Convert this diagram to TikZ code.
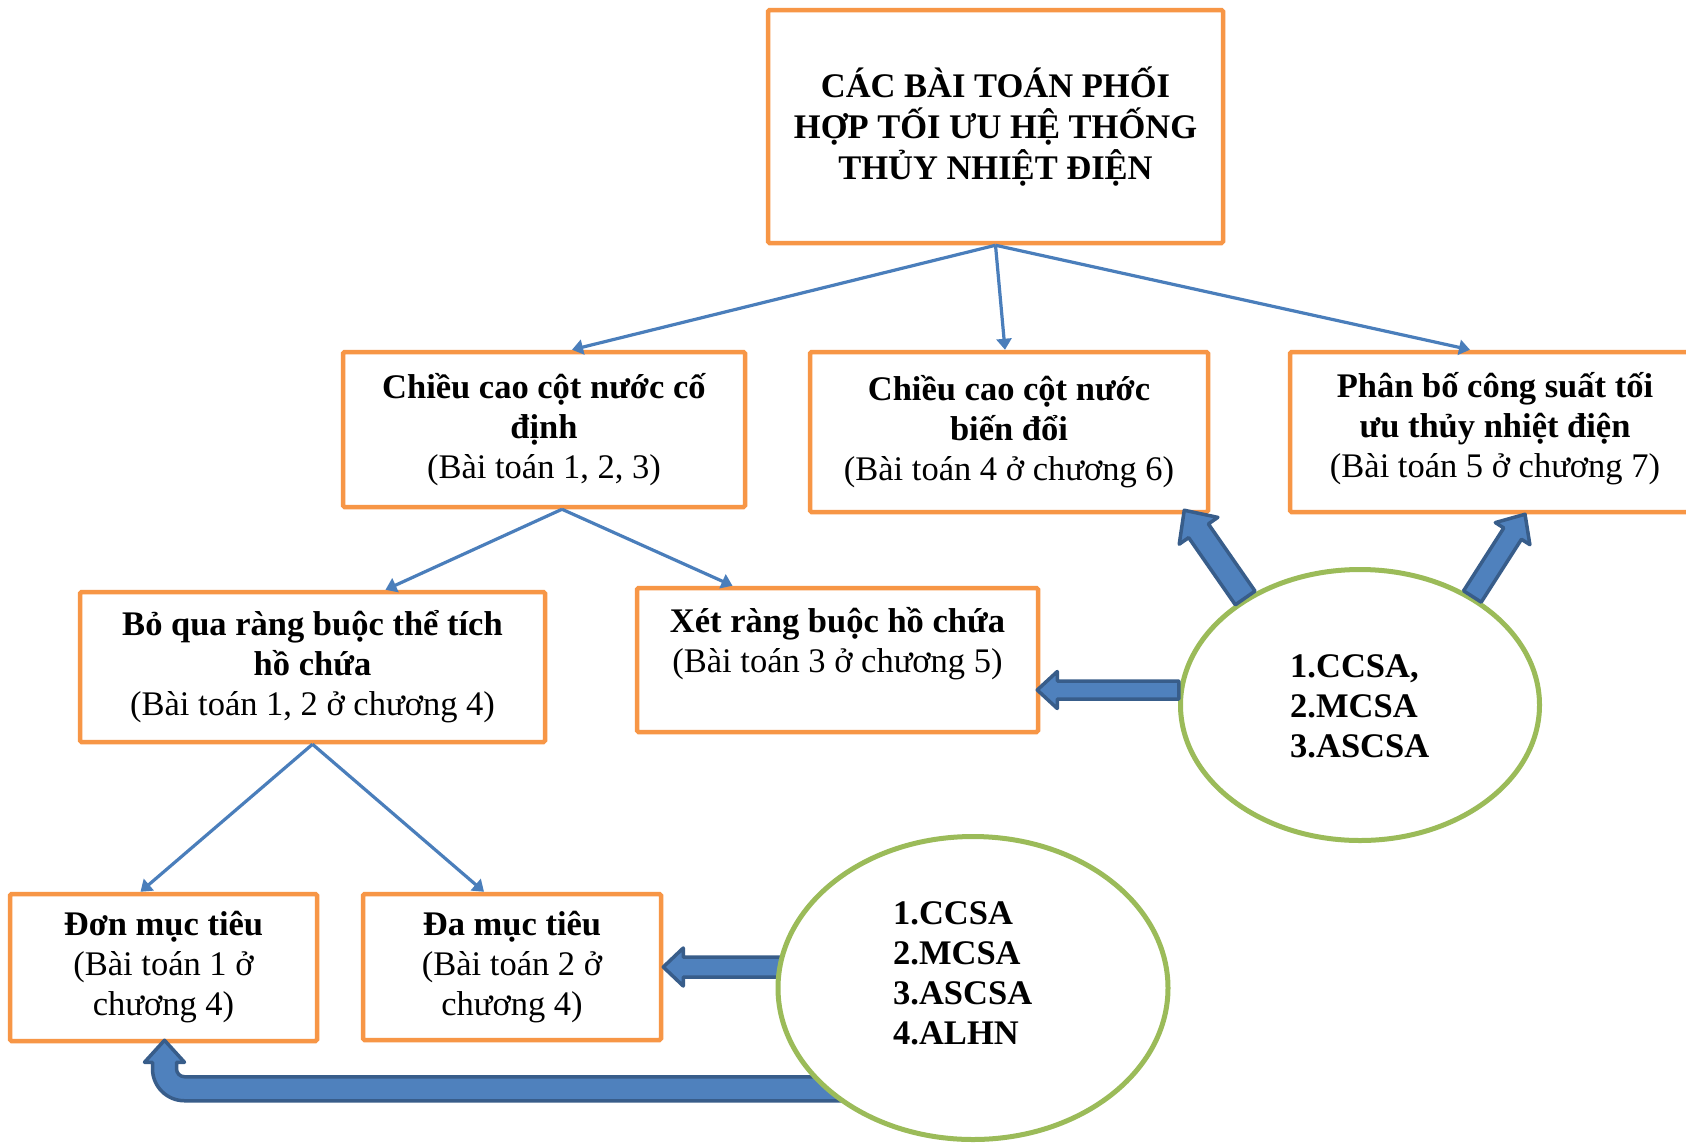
\documentclass[tikz,border=0pt]{standalone}
\usepackage{fontspec}
\setmainfont{Liberation Serif}
\usetikzlibrary{calc,arrows.meta,shapes.geometric}

\definecolor{boxorange}{HTML}{F79646}
\definecolor{linkblue}{HTML}{4A7EBB}
\definecolor{arrowfill}{HTML}{4F81BD}
\definecolor{arrowedge}{HTML}{385D8A}
\definecolor{ovalgreen}{HTML}{9BBB59}

\tikzset{
  box/.style={draw=boxorange, line width=4.5pt, fill=white, inner sep=0pt,
    rounded corners=1.5pt, align=center, font=\fontsize{34.5}{40}\selectfont},
  oval/.style={ellipse, draw=ovalgreen, line width=5pt, fill=white, inner sep=0pt},
  ovaltext/.style={align=left, inner sep=0pt, anchor=west,
    font=\fontsize{34.5}{40}\selectfont\bfseries},
  link/.style={draw=linkblue, line width=3.2pt, -{Triangle[length=11pt,width=15pt]}},
  bigarrow/.style={draw=arrowedge, fill=arrowfill, line width=3.5pt, line join=round}
}

% straight block arrow: tail, tip, shaft half-width, head half-width, head length
\newcommand\blockarrow[5]{%
  \coordinate (ba-b) at ($(#2)!#5!(#1)$);
  \draw[bigarrow] ($(#1)!#3!90:(#2)$) -- ($(ba-b)!#3!-90:(#1)$)
    -- ($(ba-b)!#4!-90:(#1)$) -- (#2) -- ($(ba-b)!#4!90:(#1)$)
    -- ($(ba-b)!#3!90:(#1)$) -- ($(#1)!#3!-90:(#2)$) -- cycle;}

\begin{document}
\begin{tikzpicture}[x=1pt,y=-1pt]
\useasboundingbox (0,0) rectangle (1686,1144);
\clip (0,0) rectangle (1686,1144);
\fill[white] (0,0) rectangle (1686,1144);

% problem boxes
\node[box, minimum width=455pt, minimum height=233pt, font=\fontsize{34.5}{41}\selectfont\bfseries]
  (top) at (995.5,126.5) {CÁC BÀI TOÁN PHỐI\\HỢP TỐI ƯU HỆ THỐNG\\THỦY NHIỆT ĐIỆN};
\node[box, minimum width=402pt, minimum height=155pt] (cd) at (544,429.5)
  {\textbf{Chiều cao cột nước cố}\\\textbf{định}\\(Bài toán 1, 2, 3)};
\node[box, minimum width=398pt, minimum height=160pt] (bd) at (1009,432)
  {\textbf{Chiều cao cột nước}\\\textbf{biến đổi}\\(Bài toán 4 ở chương 6)};
\node[box, minimum width=410pt, minimum height=160pt] (pb) at (1495,432)
  {\textbf{Phân bố công suất tối}\\\textbf{ưu thủy nhiệt điện}\\(Bài toán 5 ở chương 7)\\[-26pt]\mbox{}};
\node[box, minimum width=465pt, minimum height=150pt] (bq) at (312.5,667)
  {\textbf{Bỏ qua ràng buộc thể tích}\\\textbf{hồ chứa}\\(Bài toán 1, 2 ở chương 4)};
\node[box, minimum width=401pt, minimum height=144pt] (xr) at (837.5,660)
  {\textbf{Xét ràng buộc hồ chứa}\\(Bài toán 3 ở chương 5)\\\mbox{}};
\node[box, minimum width=307pt, minimum height=147pt] (don) at (163.5,967.5)
  {\textbf{Đơn mục tiêu}\\(Bài toán 1 ở\\chương 4)};
\node[box, minimum width=298pt, minimum height=146pt] (da) at (512,967)
  {\textbf{Đa mục tiêu}\\(Bài toán 2 ở\\chương 4)};

% hierarchy links
\draw[link] (top.south) -- ($(cd.north)+(28,0)$);
\draw[link] (top.south) -- ($(bd.north)+(-4,0)$);
\draw[link] (top.south) -- ($(pb.north)+(-25,0)$);
\draw[link] ($(cd.south)+(18,0)$) -- ($(bq.north)+(73,0)$);
\draw[link] ($(cd.south)+(18,0)$) -- ($(xr.north)+(-105,0)$);
\draw[link] (bq.south) -- ($(don.north)+(-23,0)$);
\draw[link] (bq.south) -- ($(da.north)+(-28,0)$);

% method group for the reservoir problems
\node[oval, minimum width=359pt, minimum height=271pt] (e1) at (1360,705) {};
\node[ovaltext] (e1t) at (1290,706) {1.CCSA,\\2.MCSA\\3.ASCSA};

\coordinate (tipA) at ($(bd.south east)+(-26,-4)$);
\coordinate (tipB) at ($(pb.south)+(30,0)$);
\coordinate (tipC) at ($(xr.east)+(-3,30)$);
\coordinate (tailC) at (e1.176 |- tipC);
\blockarrow{e1.137}{tipA}{12pt}{23.5pt}{25pt}
\blockarrow{e1.44}{tipB}{10.5pt}{20.5pt}{23pt}
\blockarrow{tailC}{tipC}{9pt}{18.5pt}{20pt}

% method group for the objective problems
\coordinate (tailD) at (800,967);
\coordinate (tipD) at (da.east);
\blockarrow{tailD}{tipD}{10pt}{19pt}{20pt}

\coordinate (tipE) at ($(don.south)+(1,-3)$);
\begin{scope}[shift={(tipE)}]
  \draw[bigarrow] (0,0) -- (20,22) -- (12,22) -- (12,28.5)
    arc[start angle=180, end angle=90, radius=8] -- (700,36.5) -- (700,60.5)
    -- (20,60.5) arc[start angle=90, end angle=180, radius=32]
    -- (-12,22) -- (-20,22) -- cycle;
\end{scope}

\node[oval, minimum width=390pt, minimum height=303pt] (e2) at (973,988) {};
\node[ovaltext] (e2t) at (893,973) {1.CCSA\\2.MCSA\\3.ASCSA\\4.ALHN};
\end{tikzpicture}
\end{document}
